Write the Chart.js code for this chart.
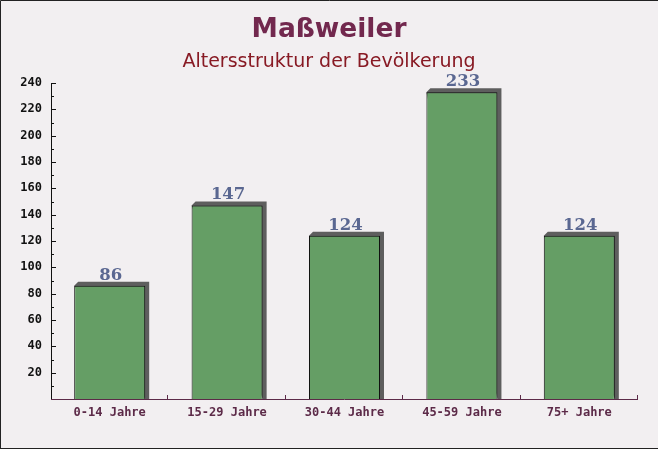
<!DOCTYPE html>
<html>
<head>
<meta charset="utf-8">
<script src="https://cdn.jsdelivr.net/npm/chart.js@4.4.1/dist/chart.umd.min.js"></script>
<style>
  html, body { margin: 0; padding: 0; background: #f2eff1; }
  canvas { display: block; }
</style>
</head>
<body>
<canvas id="chart" width="658" height="449"></canvas>
<script>
const categories = ['0-14 Jahre', '15-29 Jahre', '30-44 Jahre', '45-59 Jahre', '75+ Jahre'];
const values = [86, 147, 124, 233, 124];
const yMax = 240;
const yStep = 20;
const titleText = 'Maßweiler';
const subtitleText = 'Altersstruktur der Bevölkerung';

// hintergrund, rahmen, titel
const frame = {
    id: 'frame',
    beforeDraw(chart) {
        const ctx = chart.ctx;
        const w = chart.width, h = chart.height;
        ctx.save();
        ctx.fillStyle = '#f2eff1';
        ctx.fillRect(0, 0, w, h);
        ctx.strokeStyle = '#222';
        ctx.lineWidth = 1;
        ctx.beginPath();
        ctx.moveTo(0.5, h);
        ctx.lineTo(0.5, 0.5);
        ctx.lineTo(w, 0.5);
        ctx.moveTo(0, h - 0.5);
        ctx.lineTo(w, h - 0.5);
        ctx.stroke();

        ctx.textAlign = 'center';
        ctx.textBaseline = 'middle';
        ctx.fillStyle = '#72284e';
        ctx.font = 'bold 26.5px "DejaVu Sans"';
        ctx.fillText(titleText, w / 2, 30);
        ctx.fillStyle = '#881a24';
        ctx.font = '19px "DejaVu Sans"';
        ctx.fillText(subtitleText, w / 2, 62);
        ctx.restore();
    },
    beforeDatasetsDraw(chart) {
        // 3D-Schatten hinter den Balken
        const ctx = chart.ctx;
        const meta = chart.getDatasetMeta(0);
        ctx.save();
        ctx.fillStyle = '#5e5e5e';
        meta.data.forEach(bar => {
            const l = bar.x - bar.width / 2;
            const r = bar.x + bar.width / 2;
            const t = bar.y;
            const b = bar.base;
            ctx.beginPath();
            ctx.moveTo(l, t);
            ctx.lineTo(l + 4, t - 4);
            ctx.lineTo(r + 4, t - 4);
            ctx.lineTo(r + 4, b);
            ctx.lineTo(r, b);
            ctx.closePath();
            ctx.fill();
        });
        ctx.restore();
    },
    afterDatasetsDraw(chart) {
        const ctx = chart.ctx;
        const area = chart.chartArea;
        const y = chart.scales.y;
        ctx.save();

        // y-Achse mit Strichen nach innen
        ctx.strokeStyle = '#111';
        ctx.lineWidth = 1;
        ctx.beginPath();
        ctx.moveTo(area.left + 0.5, y.getPixelForValue(yMax));
        ctx.lineTo(area.left + 0.5, area.bottom);
        for (let v = 0; v <= yMax; v += yStep / 2) {
            const py = Math.round(y.getPixelForValue(v)) + 0.5;
            const len = v % yStep === 0 ? 5 : 3;
            ctx.moveTo(area.left, py);
            ctx.lineTo(area.left + len, py);
        }
        ctx.stroke();

        // x-Achse
        ctx.strokeStyle = '#5c2a48';
        ctx.beginPath();
        ctx.moveTo(area.left, area.bottom + 0.5);
        ctx.lineTo(area.right, area.bottom + 0.5);
        const step = (area.right - area.left) / categories.length;
        for (let i = 1; i <= categories.length; i++) {
            const px = Math.round(area.left + step * i) - 0.5;
            ctx.moveTo(px, area.bottom);
            ctx.lineTo(px, area.bottom - 4);
        }
        ctx.stroke();

        // Werte über den Balken
        ctx.fillStyle = '#5a6791';
        ctx.font = 'bold 16.5px "DejaVu Serif"';
        ctx.textAlign = 'center';
        ctx.textBaseline = 'alphabetic';
        chart.getDatasetMeta(0).data.forEach((bar, i) => {
            ctx.fillText(String(values[i]), bar.x + 1, bar.y - 6);
        });
        ctx.restore();
    }
};

new Chart(document.getElementById('chart'), {
    type: 'bar',
    data: {
        labels: categories,
        datasets: [{
            data: values,
            backgroundColor: '#659e65',
            borderColor: '#111',
            borderWidth: 1,
            borderSkipped: 'bottom',
            categoryPercentage: 1,
            barPercentage: 0.605
        }]
    },
    options: {
        responsive: false,
        animation: false,
        devicePixelRatio: 1,
        layout: { padding: { top: 83, right: 20, left: 0, bottom: 0 } },
        plugins: {
            legend: { display: false },
            title: { display: false },
            tooltip: { enabled: false }
        },
        scales: {
            x: {
                grid: { display: false, drawTicks: false },
                border: { display: false },
                ticks: {
                    color: '#5c2a48',
                    font: { family: '"DejaVu Sans Mono"', size: 12, weight: 'bold' },
                    padding: 7,
                    maxRotation: 0
                },
                afterFit(scale) { scale.height = 50; }
            },
            y: {
                min: 0,
                max: yMax,
                grid: { display: false, drawTicks: false },
                border: { display: false },
                ticks: {
                    stepSize: yStep,
                    color: '#111',
                    font: { family: '"DejaVu Sans Mono"', size: 12, weight: 'bold' },
                    padding: 9,
                    callback: v => v === 0 ? '' : v
                },
                afterFit(scale) { scale.width = 51; }
            }
        }
    },
    plugins: [frame]
});
</script>
</body>
</html>
